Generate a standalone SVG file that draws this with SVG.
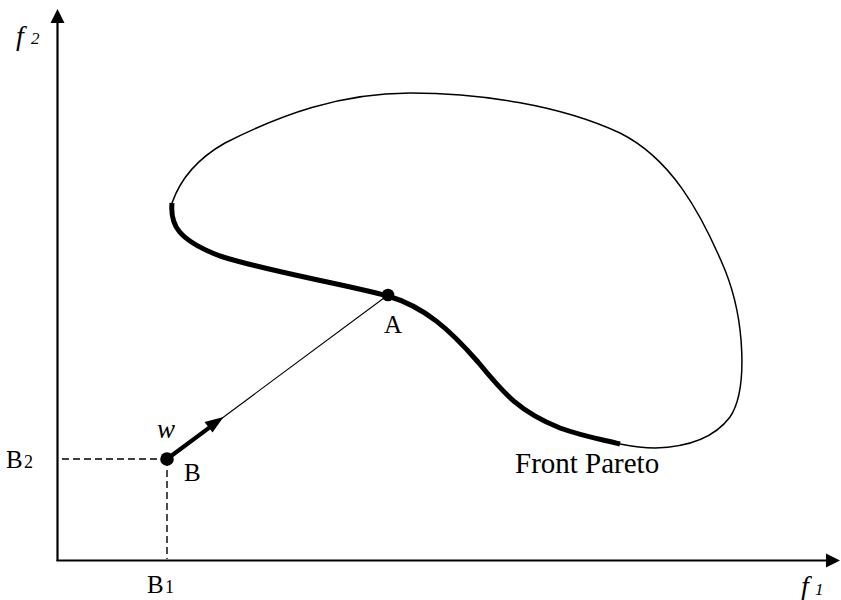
<svg xmlns="http://www.w3.org/2000/svg" width="841" height="600" viewBox="0 0 841 600">
<style>
.t{font-family:"Liberation Serif","Times New Roman",serif;fill:#000}
.i{font-style:italic}
.ax{stroke:#000;stroke-width:2.2;fill:none}
.dash{stroke:#000;stroke-width:1.4;stroke-dasharray:7 4;fill:none}
</style>
<g id="axes">
<line class="ax" x1="57.5" y1="561" x2="57.5" y2="22"/>
<path d="M50.5,23 L57.5,9 L64.5,23 z" fill="#000"/>
<line class="ax" x1="56.5" y1="560.5" x2="827" y2="560.5"/>
<path d="M826,553.5 L840,560.5 L826,567.5 z" fill="#000"/>
</g>
<g id="region">
<path d="M172,203 C180,180 195,160 225,143 C280,115 340,93 410,93 C480,93 560,105 620,133 C670,158 700,210 725,270 C745,320 748,390 730,417 C715,437 690,447 655,448 C640,448 630,446 620,444" fill="none" stroke="#000" stroke-width="1.5"/>
</g>
<g id="pareto-front">
<path d="M172,203 C170,225 178,240 220,256 C270,272 340,283 388,296 C425,307 450,330 478,362 C505,395 520,412 560,428 C585,437 605,440 620,444" fill="none" stroke="#000" stroke-width="5"/>
</g>
<g id="connectors">
<line class="dash" x1="62" y1="459" x2="167" y2="459"/>
<line class="dash" x1="167" y1="459" x2="167" y2="559"/>
<line x1="167" y1="459" x2="388" y2="295" stroke="#000" stroke-width="1.1"/>
<path d="M167,459 L211,426.4" stroke="#000" stroke-width="4.2" fill="none"/>
<path d="M223.5,417 L204.5,422 L212.5,432.5 z" fill="#000"/>
</g>
<g id="point-A">
<circle cx="388" cy="295" r="6.3" fill="#000"/>
<text class="t" x="384" y="333" font-size="25">A</text>
</g>
<g id="point-B">
<circle cx="167" cy="459" r="6.8" fill="#000"/>
<text class="t" x="184" y="481" font-size="25">B</text>
<text class="t i" x="157" y="438" font-size="27">w</text>
</g>
<g id="labels">
<text class="t i" x="16" y="45" font-size="28">f</text>
<text class="t i" x="31" y="44" font-size="17">2</text>
<text class="t" x="6" y="468" font-size="25">B</text>
<text class="t" x="24" y="468" font-size="18">2</text>
<text class="t" x="147" y="593" font-size="25">B</text>
<text class="t" x="165" y="593" font-size="18">1</text>
<text class="t i" x="801" y="595" font-size="28">f</text>
<text class="t i" x="815" y="595" font-size="17">1</text>
<text class="t" x="515" y="473" font-size="29">Front Pareto</text>
</g>
</svg>
